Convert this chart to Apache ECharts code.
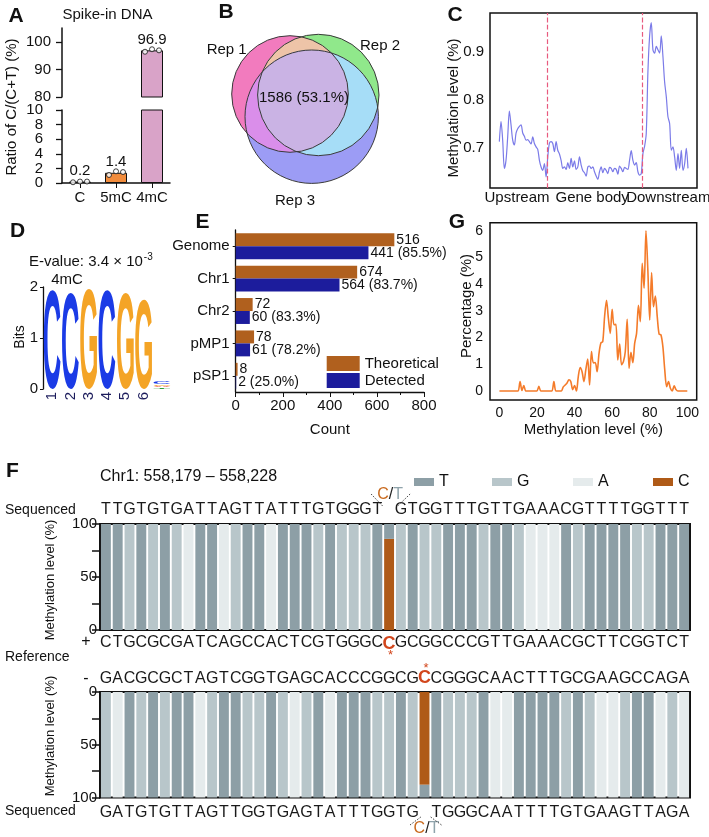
<!DOCTYPE html>
<html><head><meta charset="utf-8">
<script src="https://cdn.jsdelivr.net/npm/echarts@6/dist/echarts.min.js"></script>
<style>html,body{margin:0;padding:0;background:#fff}#c{width:709px;height:837px}</style>
</head><body><div id="c"></div>
<script>
// ---------------- DATA ----------------
// A: spike-in DNA
const spikeCats = ['C', '5mC', '4mC'];
const spikeMeans = [0.2, 1.4, 96.9];
const spikeRep1 = [0.1, 1.1, 96.4];
const spikeRep2 = [0.2, 1.6, 97.3];
const spikeRep3 = [0.2, 1.5, 96.9];
const spikeUpperTicks = [80, 90, 100];
const spikeLowerTicks = [0, 2, 4, 6, 8, 10];
// B: Venn
const vennSets = ['Rep 1', 'Rep 2', 'Rep 3'];
const vennCore = '1586 (53.1%)';
// C: metagene profile
const metaRegions = ['Upstream', 'Gene body', 'Downstream'];
const metaLevel = [0.713,0.755,0.716,0.657,0.674,0.723,0.777,0.748,0.716,0.706,
0.731,0.740,0.745,0.748,0.731,0.724,0.716,0.717,0.713,0.708,
0.723,0.709,0.702,0.697,0.674,0.660,0.653,0.667,0.639,0.681,
0.710,0.713,0.709,0.692,0.713,0.695,0.687,0.674,0.657,0.660,
0.655,0.669,0.657,0.678,0.660,0.673,0.655,0.660,0.681,0.664,
0.652,0.648,0.641,0.660,0.662,0.657,0.660,0.650,0.641,0.634,
0.650,0.660,0.648,0.657,0.653,0.646,0.659,0.657,0.650,0.657,
0.655,0.645,0.662,0.657,0.650,0.659,0.657,0.655,0.674,0.694,
0.674,0.664,0.669,0.650,0.643,0.646,0.688,0.703,0.730,0.859,
0.933,0.962,0.905,0.898,0.912,0.905,0.898,0.934,0.891,0.838,
0.807,0.765,0.751,0.695,0.702,0.681,0.653,0.688,0.657,0.695,
0.653,0.667,0.699,0.657];
const metaBounds = [28.8, 85.4];
const metaLabelPos = [10.6, 55.6, 101.2];
// D: motif logo
const logoPos = [1, 2, 3, 4, 5, 6, 7, 7, 7, 7];
const logoLetter = ['C', 'C', 'G', 'C', 'G', 'G', 'T', 'A', 'G', 'C'];
const logoBits = [1.95, 1.88, 1.97, 1.95, 1.88, 1.75, 0.03, 0.03, 0.03, 0.04];
const logoTicks = ['1', '2', '3', '4', '5', '6'];
// E: detected sites
const siteCats = ['Genome', 'Chr1', 'Chr2', 'pMP1', 'pSP1'];
const siteTheo = [674, 516, 72, 78, 8];
const siteDet = [564, 441, 60, 61, 2];
const siteTheoLabels = ['516', '674', '72', '78', '8'];
const siteDetLabels = ['441 (85.5%)', '564 (83.7%)', '60 (83.3%)', '61 (78.2%)', '2 (25.0%)'];
// G: distribution of methylation level
const distPct = [0,0,0,0,0,0,0,0,0,0,
0,0.35,0.02,0.2,0,0,0,0,0,0,
0,0.17,0,0,0,0,0,0,0,0.35,
0,0,0,0,0.15,0.22,0.3,0.42,0.35,0.05,
0.2,0,0.55,0.88,0.72,0.35,0.8,1.2,0.22,1.48,
1.05,1.06,0.72,1.4,1.8,1.85,2.8,3.4,2.72,2.16,
3.06,2.48,2.5,1.16,1.76,0.98,1.1,1.48,2.69,0.85,
1.45,1.06,1.79,2.16,3.21,2.6,4.79,3.85,6.01,4.54,
2.66,4.44,3.16,3.56,2.79,2.13,2.1,1.66,0.79,0.16,
0.35,0.1,0,0.19,0.05,0,0,0,0,0,
0];
// F: single-locus view
const locusTitle = 'Chr1: 558,179 \u2013 558,228';
const topSeq     = 'TTGTGTGATTAGTTATTTGTGGGT GTGGTTTGTTGAAACGTTTTGGTTT';
const topBarBase = 'TTGTGTGATTAGTTATTTGTGGGTTGTGGTTTGTTGAAATGTTTTGGTTT';
const plusRef    = 'CTGCGCGATCAGCCACTCGTGGGCCGCGGCCCGTTGAAACGCTTCGGTCT';
const minusRef   = 'GACGCGCTAGTCGGTGAGCACCCGGCGCCGGGCAACTTTGCGAAGCCAGA';
const botSeq     = 'GATGTGTTAGTTGGTGAGTATTTGGTG TGGGCAATTTTGTGAAGTTAGA';
const botBarBase = 'GATGTGTTAGTTGGTGAGTATTTGGTGTTGGGTAATTTTGTGAAGTTAGA';
const topMethyl = [0,0,0,0,0,0,0,0,0,0, 0,0,0,0,0,0,0,0,0,0, 0,0,0,0,86,0,0,0,0,0, 0,0,0,0,0,0,0,0,0,0, 0,0,0,0,0,0,0,0,0,0];
const botMethyl = [0,0,0,0,0,0,0,0,0,0, 0,0,0,0,0,0,0,0,0,0, 0,0,0,0,0,0,0,88,0,0, 0,0,0,0,0,0,0,0,0,0, 0,0,0,0,0,0,0,0,0,0];
const topSite = 24, botSite = 27;

// ---------------- STYLE ----------------
const FONT = 'Liberation Sans, Arial, Helvetica, sans-serif';
const INK = '#111';
const COL = {T: '#8D9FA6', G: '#B8C6CA', A: '#E5EBEC', C: '#AF5A17'};
const spikeColors = ['#9a9a9a', '#F28C3C', '#D9A3C8'];
const LOGO_COL = {C: '#1B3BE6', G: '#F4A426', A: '#E0301E', T: '#2E9E3A'};
const ts = (size, extra) => Object.assign({fontFamily: FONT, fontSize: size, color: INK}, extra || {});
const axLine = (w) => ({show: true, lineStyle: {color: INK, width: w || 1.3}});
const ends = {showMinLabel: true, showMaxLabel: true, hideOverlap: false};

const chart = echarts.init(document.getElementById('c'), null, {renderer: 'canvas', width: 709, height: 837});

// logo glyph metrics
const LOGO_FONT_SIZE = 100;
const mctx = document.createElement('canvas').getContext('2d');
mctx.font = 'bold ' + LOGO_FONT_SIZE + 'px Liberation Sans';
mctx.textAlign = 'center'; mctx.textBaseline = 'middle';
const logoMetrics = {};
['A', 'C', 'G', 'T'].forEach(L => {
  const m = mctx.measureText(L);
  logoMetrics[L] = {w: m.actualBoundingBoxLeft + m.actualBoundingBoxRight,
    cx: (m.actualBoundingBoxRight - m.actualBoundingBoxLeft) / 2,
    h: m.actualBoundingBoxAscent + m.actualBoundingBoxDescent,
    d: m.actualBoundingBoxDescent};
});
const LETTERS = ['A', 'C', 'G', 'T'];
const logoData = [];
const stackTop = {};
logoPos.forEach((p, i) => {
  const b = stackTop[p] || 0;
  logoData.push([p, b, logoBits[i], LETTERS.indexOf(logoLetter[i])]);
  stackTop[p] = b + logoBits[i];
});

function fSeries(bases, meth, xi, yi, stack) {
  const out = [{name: 'C', type: 'bar', xAxisIndex: xi, yAxisIndex: yi, stack, data: meth,
    itemStyle: {color: COL.C}, barCategoryGap: '16%'}];
  ['T', 'G', 'A'].forEach(L => out.push({name: L, type: 'bar', xAxisIndex: xi, yAxisIndex: yi, stack,
    data: bases.split('').map((b, i) => b === L ? 100 - meth[i] : 0),
    itemStyle: {color: COL[L]}, barCategoryGap: '16%'}));
  return out;
}
const seqAxis = (grid, seq, pos, margin, redIdx) => ({
  gridIndex: grid, type: 'category', position: pos, data: seq.split(''),
  axisLine: {show: false}, axisTick: {show: false}, splitLine: {show: false},
  axisLabel: {interval: 0, margin, fontFamily: FONT, fontSize: 16, color: '#1a1a1a',
    formatter: (v, i) => i === redIdx ? '{r|' + v + '}' : v,
    rich: {r: {color: '#D2461C', fontWeight: 'bold', fontSize: 18, fontFamily: FONT}}}
});

const spikeBar = (xi, yi, upper) => ({
  type: 'bar', xAxisIndex: xi, yAxisIndex: yi, barWidth: 22,
  data: spikeMeans.map((v, i) => ({value: v, itemStyle: {color: spikeColors[i]}})),
  itemStyle: {borderColor: INK, borderWidth: 1},
  label: {show: true, position: 'top', distance: 3, fontFamily: FONT, fontSize: 15, color: INK,
    formatter: p => (upper ? p.value > 80 : p.value <= 10) ? p.value.toFixed(1) : ''}
});
const spikeDots = (xi, yi) => [spikeRep1, spikeRep2, spikeRep3].map((arr, k) => ({
  type: 'scatter', xAxisIndex: xi, yAxisIndex: yi, data: arr, symbol: 'circle', symbolSize: 5,
  symbolOffset: [(k - 1) * 7, 0], itemStyle: {color: '#fff', borderColor: INK, borderWidth: 1}, z: 5
}));

const option = {
  animation: false,
  backgroundColor: '#fff',
  textStyle: {fontFamily: FONT},
  grid: [
    {left: 62, top: 28, width: 108, height: 69},          // 0 A upper
    {left: 62, top: 110, width: 108, height: 73},         // 1 A lower
    {left: 490, top: 13, width: 207, height: 175, show: true, borderColor: INK, borderWidth: 1.5}, // 2 C
    {left: 43, top: 287, width: 128, height: 102},        // 3 D
    {left: 235.7, top: 230, width: 188.3, height: 162},   // 4 E
    {left: 490, top: 222.7, width: 206.7, height: 177.3, show: true, borderColor: INK, borderWidth: 1.5}, // 5 G
    {left: 100, top: 524, width: 590, height: 106, show: true, borderColor: INK, borderWidth: 2},  // 6 F top
    {left: 100, top: 692, width: 590, height: 105.5, show: true, borderColor: INK, borderWidth: 2} // 7 F bottom
  ],
  xAxis: [
    {gridIndex: 0, type: 'category', data: spikeCats, show: false},
    {gridIndex: 1, type: 'category', data: spikeCats, axisLine: axLine(1.5),
      axisTick: {show: true, alignWithLabel: true, length: 5, lineStyle: {color: INK}},
      axisLabel: ts(15, {margin: 7, interval: 0})},
    {gridIndex: 2, type: 'value', min: -5.6, max: 118.4, axisLine: {show: false}, axisTick: {show: false},
      splitLine: {show: false}, axisLabel: {show: false}},
    {gridIndex: 3, type: 'value', min: 0.5, max: 7.5, axisLine: {show: false}, axisTick: {show: false},
      splitLine: {show: false},
      axisLabel: ts(15, Object.assign({margin: 3, rotate: 90, customValues: [1, 2, 3, 4, 5, 6],
        formatter: v => logoTicks[v - 1] || '', color: '#1c1c5c'}, ends))},
    {gridIndex: 4, type: 'value', min: 0, max: 800, interval: 200, axisLine: axLine(1.3),
      axisTick: {show: true, length: 5, lineStyle: {color: INK}},
      minorTick: {show: true, splitNumber: 2, length: 3, lineStyle: {color: INK}},
      splitLine: {show: false}, axisLabel: ts(15, Object.assign({margin: 6}, ends)),
      name: 'Count', nameLocation: 'middle', nameGap: 30, nameTextStyle: ts(15)},
    {gridIndex: 5, type: 'value', min: -5, max: 105, axisLine: {show: false},
      axisTick: {show: false},
      splitLine: {show: false},
      axisLabel: ts(14, Object.assign({margin: 6, customValues: [0, 20, 40, 60, 80, 100]}, ends)),
      name: 'Methylation level (%)', nameLocation: 'middle', nameGap: 22, nameTextStyle: ts(15)},
    seqAxis(6, plusRef, 'bottom', 5, topSite),
    seqAxis(6, topSeq, 'top', 6, -1),
    seqAxis(7, minusRef, 'top', 5, botSite),
    seqAxis(7, botSeq, 'bottom', 7, -1)
  ],
  yAxis: [
    {gridIndex: 0, type: 'value', min: 80, max: 105, axisLine: axLine(1.5),
      axisTick: {show: true, length: 6, customValues: spikeUpperTicks, lineStyle: {color: INK, width: 1.3}},
      splitLine: {show: false}, axisLabel: {show: false}},
    {gridIndex: 1, type: 'value', min: 0, max: 10, interval: 2, axisLine: axLine(1.5),
      axisTick: {show: true, length: 6, customValues: spikeLowerTicks, lineStyle: {color: INK, width: 1.3}},
      splitLine: {show: false}, axisLabel: {show: false}},
    {gridIndex: 2, type: 'value', min: 0.616, max: 0.982, axisLine: {show: false}, axisTick: {show: false},
      splitLine: {show: false},
      axisLabel: ts(15, Object.assign({margin: 6, customValues: [0.7, 0.8, 0.9], formatter: v => v.toFixed(1)}, ends))},
    {gridIndex: 3, type: 'value', min: 0, max: 2, interval: 1, axisLine: axLine(1.3),
      axisTick: {show: true, length: 3, lineStyle: {color: INK}}, splitLine: {show: false},
      axisLabel: ts(15, Object.assign({margin: 5}, ends))},
    {gridIndex: 4, type: 'category', data: siteCats, inverse: true, axisLine: axLine(1.3),
      axisTick: {show: true, length: 3, alignWithLabel: true, lineStyle: {color: INK}},
      axisLabel: ts(15, {margin: 6, interval: 0})},
    {gridIndex: 5, type: 'value', min: -0.34, max: 6.31, axisLine: {show: false},
      axisTick: {show: false},
      splitLine: {show: false},
      axisLabel: ts(14, Object.assign({margin: 7, customValues: [0, 1, 2, 3, 4, 5, 6]}, ends))},
    {gridIndex: 6, type: 'value', min: 0, max: 100, interval: 25, axisLine: axLine(2),
      axisTick: {show: true, length: 8, lineStyle: {color: INK, width: 1.5}}, splitLine: {show: false},
      axisLabel: ts(15, Object.assign({margin: 3, customValues: [0, 50, 100]}, ends))},
    {gridIndex: 7, type: 'value', min: 0, max: 100, interval: 25, inverse: true, axisLine: axLine(2),
      axisTick: {show: true, length: 8, lineStyle: {color: INK, width: 1.5}}, splitLine: {show: false},
      axisLabel: ts(15, Object.assign({margin: 3, customValues: [0, 50, 100]}, ends))}
  ],
  legend: [
    {data: ['Theoretical', 'Detected'], left: 321.7, top: 351, orient: 'vertical', icon: 'rect',
      itemWidth: 33, itemHeight: 15, itemGap: 2, textStyle: ts(15), selectedMode: false},
    {data: ['T'], left: 409, top: 469, icon: 'rect', itemWidth: 20, itemHeight: 8, textStyle: ts(16), selectedMode: false},
    {data: ['G'], left: 487, top: 469, icon: 'rect', itemWidth: 20, itemHeight: 8, textStyle: ts(16), selectedMode: false},
    {data: ['A'], left: 568, top: 469, icon: 'rect', itemWidth: 20, itemHeight: 8, textStyle: ts(16), selectedMode: false},
    {data: ['C'], left: 648, top: 469, icon: 'rect', itemWidth: 20, itemHeight: 8, textStyle: ts(16), selectedMode: false}
  ],
  series: [
    spikeBar(0, 0, true), spikeBar(1, 1, false),
    ...spikeDots(0, 0), ...spikeDots(1, 1),
    {type: 'line', xAxisIndex: 2, yAxisIndex: 2, data: metaLevel.map((v, i) => [i, v]),
      showSymbol: false, smooth: 0.3, lineStyle: {color: '#7B7BE8', width: 1.2}, itemStyle: {color: '#7B7BE8'},
      markLine: {silent: true, symbol: 'none', label: {show: false},
        lineStyle: {type: 'dashed', color: '#E85A7E', width: 1.2},
        data: metaBounds.map(b => ({xAxis: b}))}},
    {type: 'custom', xAxisIndex: 3, yAxisIndex: 3, data: logoData,
      renderItem: (params, api) => {
        const pos = api.value(0), bottom = api.value(1), h = api.value(2), L = LETTERS[api.value(3)];
        const p0 = api.coord([pos - 0.46, bottom]);
        const p1 = api.coord([pos + 0.46, bottom + h]);
        const m = logoMetrics[L];
        const w = p1[0] - p0[0], hh = Math.max(0.3, p0[1] - p1[1]);
        return {type: 'group', x: (p0[0] + p1[0]) / 2, y: p0[1], scaleX: w / m.w, scaleY: hh / m.h,
          children: [{type: 'text', x: -m.cx, y: -m.d,
            style: {text: L, fontSize: LOGO_FONT_SIZE, fontWeight: 'bold', fontFamily: 'Liberation Sans',
              fill: LOGO_COL[L], align: 'center', verticalAlign: 'middle'}}]};
      }},
    {name: 'Theoretical', type: 'bar', xAxisIndex: 4, yAxisIndex: 4, data: siteTheo, barGap: '0%',
      barCategoryGap: '20%', itemStyle: {color: '#B0601E'},
      label: {show: true, position: 'right', distance: 2, fontFamily: FONT, fontSize: 14, color: INK,
        formatter: p => siteTheoLabels[p.dataIndex]}},
    {name: 'Detected', type: 'bar', xAxisIndex: 4, yAxisIndex: 4, data: siteDet, barGap: '0%',
      barCategoryGap: '20%', itemStyle: {color: '#1C1C9C'},
      label: {show: true, position: 'right', distance: 2, fontFamily: FONT, fontSize: 14, color: INK,
        formatter: p => siteDetLabels[p.dataIndex]}},
    {type: 'line', xAxisIndex: 5, yAxisIndex: 5, data: distPct.map((v, i) => [i, v]),
      showSymbol: false, smooth: 0.3, lineStyle: {color: '#F47B2A', width: 1.6}, itemStyle: {color: '#F47B2A'}},
    ...fSeries(topBarBase, topMethyl, 6, 6, 'ftop'),
    ...fSeries(botBarBase, botMethyl, 9, 7, 'fbot')
  ]
};
chart.setOption(option);

// ---------------- TEXT / ANNOTATIONS ----------------
function T(x, y, text, size, o) {
  o = o || {};
  return Object.assign({type: 'text', x, y, silent: true, z: 50,
    style: Object.assign({text, fontSize: size, fontFamily: FONT, fill: INK,
      align: o.align || 'center', verticalAlign: 'middle', fontWeight: o.bold ? 'bold' : 'normal'}, o.style || {})},
    o.rot ? {rotation: o.rot} : {});
}
const R90 = Math.PI / 2;
const g = [
  T(16, 16, 'A', 21, {bold: true}), T(226, 12, 'B', 21, {bold: true}), T(455, 15, 'C', 21, {bold: true}),
  T(17.5, 231, 'D', 21, {bold: true}), T(202.5, 222, 'E', 21, {bold: true}), T(12.5, 471, 'F', 21, {bold: true}),
  T(457, 222, 'G', 21, {bold: true}),
  T(107.5, 15, 'Spike-in DNA', 15),
  T(12, 107, 'Ratio of C/(C+T) (%)', 15, {rot: R90}),
  T(226.7, 50, vennSets[0], 15), T(380, 46, vennSets[1], 15), T(295, 201, vennSets[2], 15),
  T(304, 98, vennCore, 15),
  T(454, 108, 'Methylation level (%)', 15, {rot: R90}),
  T(29, 262, 'E-value: 3.4 \u00D7 10', 15, {align: 'left'}),
  T(67, 280, '4mC', 15),
  T(20, 337, 'Bits', 14, {rot: R90}),
  T(467, 306, 'Percentage (%)', 15, {rot: R90}),
  T(100, 477, locusTitle, 16, {align: 'left'}),
  T(5, 510, 'Sequenced', 14, {align: 'left'}),
  T(5, 657, 'Reference', 14, {align: 'left'}),
  T(5, 811, 'Sequenced', 14, {align: 'left'}),
  T(86, 642, '+', 16), T(86, 679, '-', 16),
  T(50, 580, 'Methylation level (%)', 13, {rot: R90}),
  T(50, 736, 'Methylation level (%)', 13, {rot: R90})
];
mctx.font = '15px Liberation Sans';
const evW = mctx.measureText('E-value: 3.4 \u00D7 10').width;
g.push(T(29 + evW + 1, 257, '-3', 10, {align: 'left'}));
// tick labels of the broken axis in panel A, placed through the y scales
spikeUpperTicks.forEach(v => g.push(T(51, chart.convertToPixel({yAxisIndex: 0}, v), String(v), 15, {align: 'right'})));
spikeLowerTicks.forEach(v => g.push(T(43, chart.convertToPixel({yAxisIndex: 1}, v), String(v), 15, {align: 'right'})));
// region labels of panel C, positioned through the x scale
metaLabelPos.forEach((p, i) => {
  const px = chart.convertToPixel({xAxisIndex: 2}, p);
  g.push(T(px, 198, metaRegions[i], 15));
});

const tx = chart.convertToPixel({xAxisIndex: 6}, topSite);
const bx = chart.convertToPixel({xAxisIndex: 9}, botSite);
const ctRich = {c: {fill: '#C96A1E', fontSize: 16, fontFamily: FONT}, s: {fill: '#222', fontSize: 16, fontFamily: FONT},
  t: {fill: '#8FA3AB', fontSize: 16, fontFamily: FONT}};
const dash = (x1, y1, x2, y2) => ({type: 'line', silent: true, z: 50, shape: {x1, y1, x2, y2},
  style: {stroke: '#444', lineWidth: 1, lineDash: [1.5, 1.5]}});
g.push({type: 'text', x: tx + 1, y: 495, silent: true, z: 50,
  style: {text: '{c|C}{s|/}{t|T}', rich: ctRich, align: 'center', verticalAlign: 'middle'}});
g.push(dash(tx - 18, 494, tx - 6, 506.5), dash(tx + 21, 494, tx + 8, 506.5));
g.push(T(tx + 1.5, 655, '*', 13, {style: {fill: '#D2461C'}}));
g.push(T(bx + 1.5, 668, '*', 13, {style: {fill: '#D2461C'}}));
g.push({type: 'text', x: bx + 2, y: 829, silent: true, z: 50,
  style: {text: '{c|C}{s|/}{t|T}', rich: ctRich, align: 'center', verticalAlign: 'middle'}});
g.push(dash(bx - 14.5, 825, bx - 3, 816.5), dash(bx + 17, 825, bx + 5.5, 816.5));
chart.setOption({graphic: g});

// ---------------- VENN (B) ----------------
const zr = chart.getZr();
const EG = echarts.graphic;
const vennCircles = [[290, 94, 58.3], [318.3, 95, 60.7], [311.7, 116.7, 66.7]];
const VC = {p: '#F27BBE', g: '#90E88B', b: '#9C9CF5', pg: '#EEC4A8', pb: '#DA8EEA', gb: '#A6DDF7', pgb: '#CAB3E4'};
let zz = 1;
const circ = (c, fill, stroke) => new EG.Circle({shape: {cx: c[0], cy: c[1], r: c[2]}, silent: true, z2: zz++,
  style: {fill: fill || null, stroke: stroke || null, lineWidth: 1}});
const clip = (c, child) => { const grp = new EG.Group({silent: true}); grp.setClipPath(new EG.Circle({shape: {cx: c[0], cy: c[1], r: c[2]}})); grp.add(child); return grp; };
const [cp, cg, cb] = vennCircles;
zr.add(circ(cp, VC.p));
zr.add(circ(cg, VC.g));
zr.add(clip(cp, circ(cg, VC.pg)));
zr.add(circ(cb, VC.b));
zr.add(clip(cp, circ(cb, VC.pb)));
zr.add(clip(cg, circ(cb, VC.gb)));
zr.add(clip(cp, clip(cg, circ(cb, VC.pgb))));
vennCircles.forEach(c => zr.add(circ(c, null, '#3a3a3a')));
</script></body></html>
